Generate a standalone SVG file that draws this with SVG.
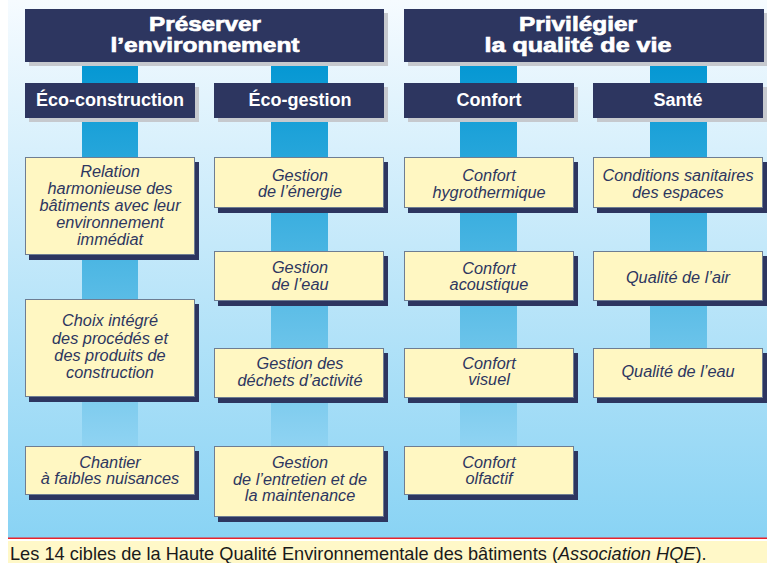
<svg xmlns="http://www.w3.org/2000/svg" width="767" height="563" viewBox="0 0 767 563">
<style>
.top{fill:#2d3660}
.topsh{fill:#c6c9ce}
.tt{font-family:"Liberation Sans",Arial,sans-serif;font-weight:bold;fill:#fff;stroke:#fff;stroke-width:0.7;font-size:21px;text-anchor:middle}
.ct{font-family:"Liberation Sans",Arial,sans-serif;font-weight:bold;fill:#fff;font-size:18px;text-anchor:middle}
.box{fill:#fff7c2;stroke:#6e7d92;stroke-width:1}
.sh{fill:#2d3660}
.bt{font-family:"Liberation Sans",Arial,sans-serif;font-style:italic;fill:#2d3660;font-size:16.3px;text-anchor:middle}
.bar{fill:url(#barg)}
.cap{font-family:"Liberation Sans",Arial,sans-serif;fill:#1a1a1a;font-size:18.2px}
</style>
<defs>
<linearGradient id="bg" x1="0" y1="0" x2="0" y2="538" gradientUnits="userSpaceOnUse">
<stop offset="0" stop-color="#f6fbff"/>
<stop offset="1" stop-color="#89d3f4"/>
</linearGradient>
<linearGradient id="barg" x1="0" y1="62" x2="0" y2="446" gradientUnits="userSpaceOnUse">
<stop offset="0" stop-color="#0497d3"/>
<stop offset="1" stop-color="#8fd3f2"/>
</linearGradient>
</defs>
<rect x="0" y="0" width="767" height="563" fill="#fff"/>
<rect x="8" y="0" width="759" height="538" fill="url(#bg)"/>
<rect x="8" y="537.5" width="759" height="1.5" fill="#e8222c"/>
<rect x="8" y="541" width="759" height="22" fill="#fff8c8"/>

<g id="connectors">
<rect class="bar" x="82" y="62" width="56" height="384"/>
<rect class="bar" x="271" y="62" width="57" height="384"/>
<rect class="bar" x="460" y="62" width="57" height="384"/>
<rect class="bar" x="650" y="62" width="57" height="286"/>
</g>

<g id="preserver">
<rect class="topsh" x="29" y="13" width="359" height="53"/>
<rect class="top" x="25" y="9" width="359" height="53"/>
<text class="tt" x="205" y="31" textLength="112" lengthAdjust="spacingAndGlyphs">Préserver</text>
<text class="tt" x="205" y="52" textLength="189" lengthAdjust="spacingAndGlyphs">l’environnement</text>
</g>
<g id="privilegier">
<rect class="topsh" x="408" y="13" width="360" height="53"/>
<rect class="top" x="404" y="9" width="360" height="53"/>
<text class="tt" x="578" y="31" textLength="118" lengthAdjust="spacingAndGlyphs">Privilégier</text>
<text class="tt" x="578" y="52" textLength="187" lengthAdjust="spacingAndGlyphs">la qualité de vie</text>
</g>

<g id="eco-construction">
<rect class="topsh" x="29" y="87" width="170" height="35"/>
<rect class="top" x="25" y="83" width="170" height="35"/>
<text class="ct" x="110" y="106">Éco-construction</text>
</g>
<g id="eco-gestion">
<rect class="topsh" x="218" y="87" width="170" height="35"/>
<rect class="top" x="214" y="83" width="170" height="35"/>
<text class="ct" x="300" y="106">Éco-gestion</text>
</g>
<g id="confort">
<rect class="topsh" x="408" y="87" width="170" height="35"/>
<rect class="top" x="404" y="83" width="170" height="35"/>
<text class="ct" x="489" y="106">Confort</text>
</g>
<g id="sante">
<rect class="topsh" x="597" y="87" width="170" height="35"/>
<rect class="top" x="593" y="83" width="170" height="35"/>
<text class="ct" x="678" y="106">Santé</text>
</g>

<g id="relation">
<rect class="sh" x="29" y="162" width="170" height="98"/>
<rect class="box" x="25.5" y="157.5" width="169" height="97"/>
<text class="bt" x="110" y="177">Relation</text>
<text class="bt" x="110" y="194">harmonieuse des</text>
<text class="bt" x="110" y="211">bâtiments avec leur</text>
<text class="bt" x="110" y="228">environnement</text>
<text class="bt" x="110" y="245">immédiat</text>
</g>
<g id="choix">
<rect class="sh" x="29" y="304" width="170" height="98"/>
<rect class="box" x="25.5" y="299.5" width="169" height="97"/>
<text class="bt" x="110" y="326">Choix intégré</text>
<text class="bt" x="110" y="343.5">des procédés et</text>
<text class="bt" x="110" y="361">des produits de</text>
<text class="bt" x="110" y="378">construction</text>
</g>
<g id="chantier">
<rect class="sh" x="29" y="451" width="170" height="49"/>
<rect class="box" x="25.5" y="446.5" width="169" height="48"/>
<text class="bt" x="110" y="467.5">Chantier</text>
<text class="bt" x="110" y="484">à faibles nuisances</text>
</g>

<g id="energie">
<rect class="sh" x="218" y="162" width="170" height="51"/>
<rect class="box" x="214.5" y="157.5" width="169" height="50"/>
<text class="bt" x="300" y="180.5">Gestion</text>
<text class="bt" x="300" y="197">de l’énergie</text>
</g>
<g id="eau">
<rect class="sh" x="218" y="256" width="170" height="50"/>
<rect class="box" x="214.5" y="251.5" width="169" height="49"/>
<text class="bt" x="300" y="273">Gestion</text>
<text class="bt" x="300" y="289.5">de l’eau</text>
</g>
<g id="dechets">
<rect class="sh" x="218" y="353" width="170" height="50"/>
<rect class="box" x="214.5" y="348.5" width="169" height="49"/>
<text class="bt" x="300" y="368.5">Gestion des</text>
<text class="bt" x="300" y="385.5">déchets d’activité</text>
</g>
<g id="entretien">
<rect class="sh" x="218" y="451" width="170" height="71"/>
<rect class="box" x="214.5" y="446.5" width="169" height="70"/>
<text class="bt" x="300" y="467.5">Gestion</text>
<text class="bt" x="300" y="484.5">de l’entretien et de</text>
<text class="bt" x="300" y="501">la maintenance</text>
</g>

<g id="hygro">
<rect class="sh" x="408" y="162" width="170" height="51"/>
<rect class="box" x="404.5" y="157.5" width="169" height="50"/>
<text class="bt" x="489" y="181">Confort</text>
<text class="bt" x="489" y="197.5">hygrothermique</text>
</g>
<g id="acoustique">
<rect class="sh" x="408" y="256" width="170" height="50"/>
<rect class="box" x="404.5" y="251.5" width="169" height="49"/>
<text class="bt" x="489" y="273.5">Confort</text>
<text class="bt" x="489" y="290">acoustique</text>
</g>
<g id="visuel">
<rect class="sh" x="408" y="353" width="170" height="50"/>
<rect class="box" x="404.5" y="348.5" width="169" height="49"/>
<text class="bt" x="489" y="368.5">Confort</text>
<text class="bt" x="489" y="385">visuel</text>
</g>
<g id="olfactif">
<rect class="sh" x="408" y="451" width="170" height="49"/>
<rect class="box" x="404.5" y="446.5" width="169" height="48"/>
<text class="bt" x="489" y="467.5">Confort</text>
<text class="bt" x="489" y="484">olfactif</text>
</g>

<g id="sanitaires">
<rect class="sh" x="597" y="162" width="170" height="51"/>
<rect class="box" x="593.5" y="157.5" width="169" height="50"/>
<text class="bt" x="678" y="180.5">Conditions sanitaires</text>
<text class="bt" x="678" y="197.5">des espaces</text>
</g>
<g id="air">
<rect class="sh" x="597" y="256" width="170" height="50"/>
<rect class="box" x="593.5" y="251.5" width="169" height="49"/>
<text class="bt" x="678" y="283">Qualité de l’air</text>
</g>
<g id="qualite-eau">
<rect class="sh" x="597" y="353" width="170" height="50"/>
<rect class="box" x="593.5" y="348.5" width="169" height="49"/>
<text class="bt" x="678" y="377">Qualité de l’eau</text>
</g>

<text class="cap" x="10" y="559.5">Les 14 cibles de la Haute Qualité Environnementale des bâtiments (<tspan font-style="italic">Association HQE</tspan>).</text>
</svg>
